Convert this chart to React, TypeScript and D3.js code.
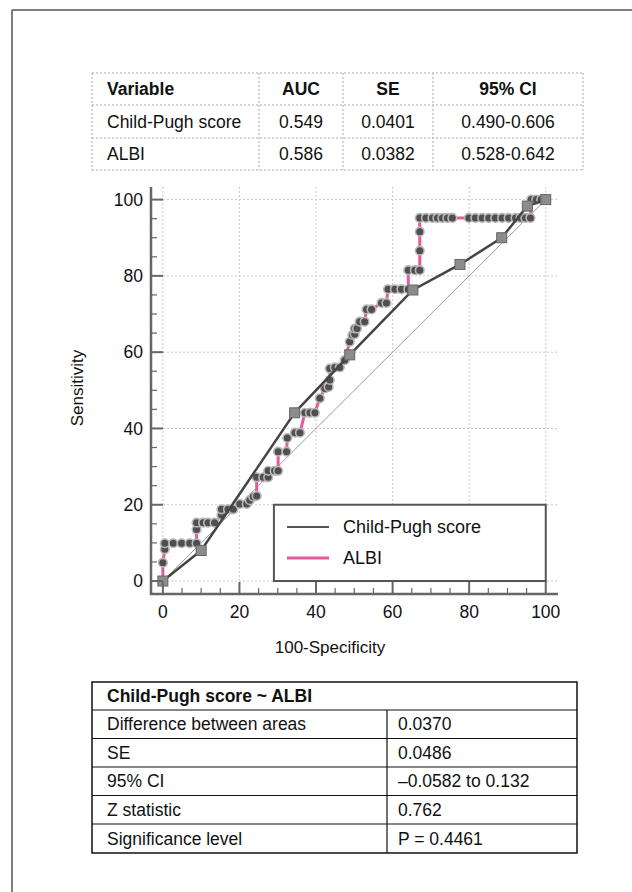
import React, { useEffect, useRef } from "react";
import * as d3 from "d3";

// ROC points (100-Specificity, Sensitivity)
const childPugh: [number, number][] = [
  [0, 0], [10, 8], [34.4, 44.1], [48.8, 59.3], [65.3, 76.3],
  [77.6, 83], [88.5, 90], [95.2, 98.3], [100, 100],
];

const albi: [number, number][] = [
  [0, 0], [0, 4.8], [0.5, 8.3], [0.5, 9.9], [2.7, 9.9], [4.9, 9.9], [7.0, 9.9], [8.8, 9.9],
  [8.8, 13.5], [8.8, 15.3], [10.5, 15.3], [11.8, 15.3], [13.5, 15.3], [15.3, 17.3], [15.3, 18.8],
  [17, 18.8], [18.4, 18.8], [20.1, 20.2], [21.9, 20.2], [22.7, 21.2], [23.6, 22.1], [24.5, 22.3],
  [24.5, 27.2], [26.2, 27.2], [27.5, 27.2], [27.5, 28.9], [29.2, 28.9], [30.1, 28.9], [30.1, 33.9],
  [32.3, 33.9], [32.5, 37.5], [34.5, 38.9], [35.8, 38.9], [37.1, 44.1], [38.4, 44.1], [39.7, 44.1],
  [41, 47.9], [42.3, 50.5], [43.3, 50.9], [43.6, 52.7], [43.6, 55.7], [44.9, 56], [46.2, 56],
  [47.5, 57.9], [48.8, 62.7], [49.5, 64.5], [50.1, 64.7], [50.1, 66.2], [50.7, 66.2], [51.4, 68],
  [52.7, 68], [53.2, 71.2], [54.5, 71.2], [57.1, 72.9], [58.4, 72.9], [58.8, 76.5], [60.6, 76.5],
  [62.3, 76.5], [64.1, 76.5], [64.1, 81.5], [65.8, 81.5], [67.1, 81.5], [67.1, 86.6], [67.1, 91.6],
  [67.1, 95.2], [68.7, 95.2], [70.4, 95.2], [71.7, 95.2], [73.0, 95.2], [74.3, 95.2], [75.6, 95.2],
  [79.9, 95.2], [81.6, 95.2], [83.4, 95.2], [85.1, 95.2], [86.8, 95.2], [88.6, 95.2], [90.3, 95.2],
  [92.1, 95.2], [93.4, 95.2], [94.7, 95.2], [96.0, 95.2], [96.2, 100], [97.5, 100], [98.8, 100],
  [100, 100],
];

const majorTicks = [0, 20, 40, 60, 80, 100];
const minorTicks = [5, 10, 15, 25, 30, 35, 45, 50, 55, 65, 70, 75, 85, 90, 95];

const legendLabels = ["Child-Pugh score", "ALBI"];

// AUC table
const aucHeader = ["Variable", "AUC", "SE", "95% CI"];
const aucVariables = ["Child-Pugh score", "ALBI"];
const aucValues = ["0.549", "0.586"];
const aucSE = ["0.0401", "0.0382"];
const aucCI = ["0.490-0.606", "0.528-0.642"];

// comparison table
const compareTitle = "Child-Pugh score ~ ALBI";
const compareLabels = ["Difference between areas", "SE", "95% CI", "Z statistic", "Significance level"];
const compareValues = ["0.0370", "0.0486", "\u20130.0582 to 0.132", "0.762", "P = 0.4461"];

const FONT = "'Liberation Sans', Arial, sans-serif";
const PINK = "#e8589c";

export default function App() {
  const ref = useRef<HTMLDivElement>(null);

  useEffect(() => {
    document.body.style.margin = "0";
    const width = 632;
    const height = 892;

    d3.select(ref.current).selectAll("*").remove();
    const svg = d3
      .select(ref.current)
      .append("svg")
      .attr("width", width)
      .attr("height", height)
      .style("display", "block")
      .style("font-family", FONT)
      .style("background", "#fff");

    // outer frame (top and left only)
    svg.append("line").attr("x1", 12).attr("x2", width).attr("y1", 10).attr("y2", 10)
      .attr("stroke", "#555").attr("stroke-width", 1.5);
    svg.append("line").attr("x1", 12).attr("x2", 12).attr("y1", 10).attr("y2", height)
      .attr("stroke", "#555").attr("stroke-width", 1.5);

    // ---- AUC table (dashed borders) ----
    const colX = [92, 259, 343, 433, 583];
    const rowY = [73, 105, 138, 170];
    const tbl = svg.append("g");
    rowY.forEach((y) =>
      tbl.append("line").attr("x1", colX[0]).attr("x2", colX[4]).attr("y1", y).attr("y2", y)
        .attr("stroke", "#aaa").attr("stroke-dasharray", "2,2"));
    colX.forEach((x) =>
      tbl.append("line").attr("x1", x).attr("x2", x).attr("y1", rowY[0]).attr("y2", rowY[3])
        .attr("stroke", "#aaa").attr("stroke-dasharray", "2,2"));
    const rows = [aucHeader, ...aucVariables.map((v, i) => [v, aucValues[i], aucSE[i], aucCI[i]])];
    rows.forEach((r, ri) => {
      const cy = (rowY[ri] + rowY[ri + 1]) / 2;
      r.forEach((t, ci) => {
        const left = ci === 0;
        tbl.append("text")
          .attr("x", left ? colX[0] + 15 : (colX[ci] + colX[ci + 1]) / 2)
          .attr("y", cy)
          .attr("dy", "0.35em")
          .attr("text-anchor", left ? "start" : "middle")
          .attr("font-size", 17.5)
          .attr("font-weight", ri === 0 ? "bold" : "normal")
          .attr("fill", "#111")
          .text(t);
      });
    });

    // ---- ROC chart ----
    const x = d3.scaleLinear().domain([-3.1, 103.2]).range([151, 558]);
    const y = d3.scaleLinear().domain([-3.4, 103.3]).range([594, 187]);

    const chart = svg.append("g");

    // grid
    majorTicks.forEach((t) => {
      chart.append("line").attr("x1", x(t)).attr("x2", x(t)).attr("y1", y(103.3)).attr("y2", y(-3.4))
        .attr("stroke", "#c8c8c8").attr("stroke-dasharray", "2,2");
      chart.append("line").attr("x1", x(-3.1)).attr("x2", x(103.2)).attr("y1", y(t)).attr("y2", y(t))
        .attr("stroke", "#c8c8c8").attr("stroke-dasharray", "2,2");
    });

    // diagonal
    chart.append("line").attr("x1", x(0)).attr("y1", y(0)).attr("x2", x(100)).attr("y2", y(100))
      .attr("stroke", "#999").attr("stroke-width", 1);

    const line = d3.line<[number, number]>().x((d) => x(d[0])).y((d) => y(d[1]));

    // ALBI
    chart.append("path").datum(albi).attr("d", line).attr("fill", "none")
      .attr("stroke", PINK).attr("stroke-width", 3);
    chart.selectAll(".albi").data(albi).enter().append("circle")
      .attr("class", "albi")
      .attr("cx", (d) => x(d[0])).attr("cy", (d) => y(d[1])).attr("r", 4.3)
      .attr("fill", "#4f4f4f").attr("stroke", "#b8b8b8").attr("stroke-width", 1.6);

    // Child-Pugh
    chart.append("path").datum(childPugh).attr("d", line).attr("fill", "none")
      .attr("stroke", "#444").attr("stroke-width", 2.5);
    chart.selectAll(".cp").data(childPugh).enter().append("rect")
      .attr("class", "cp")
      .attr("x", (d) => x(d[0]) - 5).attr("y", (d) => y(d[1]) - 5)
      .attr("width", 10).attr("height", 10)
      .attr("fill", "#8c8c8c").attr("stroke", "#666").attr("stroke-width", 1);

    // axes
    const axisColor = "#666";
    chart.append("line").attr("x1", 151).attr("x2", 151).attr("y1", 187).attr("y2", 595)
      .attr("stroke", axisColor).attr("stroke-width", 2.5);
    chart.append("line").attr("x1", 150).attr("x2", 558).attr("y1", 594).attr("y2", 594)
      .attr("stroke", axisColor).attr("stroke-width", 2.5);
    majorTicks.forEach((t) => {
      chart.append("line").attr("x1", 151).attr("x2", 163).attr("y1", y(t)).attr("y2", y(t))
        .attr("stroke", axisColor).attr("stroke-width", 2);
      chart.append("line").attr("x1", x(t)).attr("x2", x(t)).attr("y1", 594).attr("y2", 582)
        .attr("stroke", axisColor).attr("stroke-width", 2);
      chart.append("text").attr("x", 143).attr("y", y(t)).attr("dy", "0.35em")
        .attr("text-anchor", "end").attr("font-size", 17.5).attr("fill", "#111").text(t);
      chart.append("text").attr("x", x(t)).attr("y", 618)
        .attr("text-anchor", "middle").attr("font-size", 17.5).attr("fill", "#111").text(t);
    });
    minorTicks.forEach((t) => {
      chart.append("line").attr("x1", 151).attr("x2", 157).attr("y1", y(t)).attr("y2", y(t))
        .attr("stroke", axisColor).attr("stroke-width", 1.2);
      chart.append("line").attr("x1", x(t)).attr("x2", x(t)).attr("y1", 594).attr("y2", 588)
        .attr("stroke", axisColor).attr("stroke-width", 1.2);
    });

    chart.append("text").attr("transform", "translate(83,388) rotate(-90)")
      .attr("text-anchor", "middle").attr("font-size", 17).attr("fill", "#111").text("Sensitivity");
    chart.append("text").attr("x", 330).attr("y", 653)
      .attr("text-anchor", "middle").attr("font-size", 17).attr("fill", "#111").text("100-Specificity");

    // legend
    const lg = chart.append("g");
    lg.append("rect").attr("x", x(29)).attr("y", y(20)).attr("width", x(100) - x(29))
      .attr("height", y(0) - y(20)).attr("fill", "#fff").attr("stroke", "#555").attr("stroke-width", 2);
    const legendColors = ["#555", PINK];
    legendLabels.forEach((l, i) => {
      const ly = 527 + i * 31;
      lg.append("line").attr("x1", 287).attr("x2", 329).attr("y1", ly).attr("y2", ly)
        .attr("stroke", legendColors[i]).attr("stroke-width", i === 0 ? 2 : 3);
      lg.append("text").attr("x", 343).attr("y", ly).attr("dy", "0.35em")
        .attr("font-size", 18).attr("fill", "#111").text(l);
    });

    // ---- comparison table ----
    const tx0 = 92, tx1 = 387, tx2 = 577;
    const ty = [682, 710, 738.5, 767, 795.5, 824, 853];
    const ct = svg.append("g");
    ct.append("rect").attr("x", tx0).attr("y", ty[0]).attr("width", tx2 - tx0)
      .attr("height", ty[6] - ty[0]).attr("fill", "none").attr("stroke", "#111").attr("stroke-width", 1.5);
    ty.slice(1, 6).forEach((yy) =>
      ct.append("line").attr("x1", tx0).attr("x2", tx2).attr("y1", yy).attr("y2", yy)
        .attr("stroke", "#111").attr("stroke-width", 1.2));
    ct.append("line").attr("x1", tx1).attr("x2", tx1).attr("y1", ty[1]).attr("y2", ty[6])
      .attr("stroke", "#111").attr("stroke-width", 1.2);
    ct.append("text").attr("x", tx0 + 15).attr("y", (ty[0] + ty[1]) / 2).attr("dy", "0.35em")
      .attr("font-size", 17.5).attr("font-weight", "bold").attr("fill", "#111").text(compareTitle);
    compareLabels.forEach((l, i) => {
      const cy = (ty[i + 1] + ty[i + 2]) / 2;
      ct.append("text").attr("x", tx0 + 15).attr("y", cy).attr("dy", "0.35em")
        .attr("font-size", 17.5).attr("fill", "#111").text(l);
      ct.append("text").attr("x", tx1 + 11).attr("y", cy).attr("dy", "0.35em")
        .attr("font-size", 17.5).attr("fill", "#111").text(compareValues[i]);
    });
  }, []);

  return <div ref={ref}></div>;
}
